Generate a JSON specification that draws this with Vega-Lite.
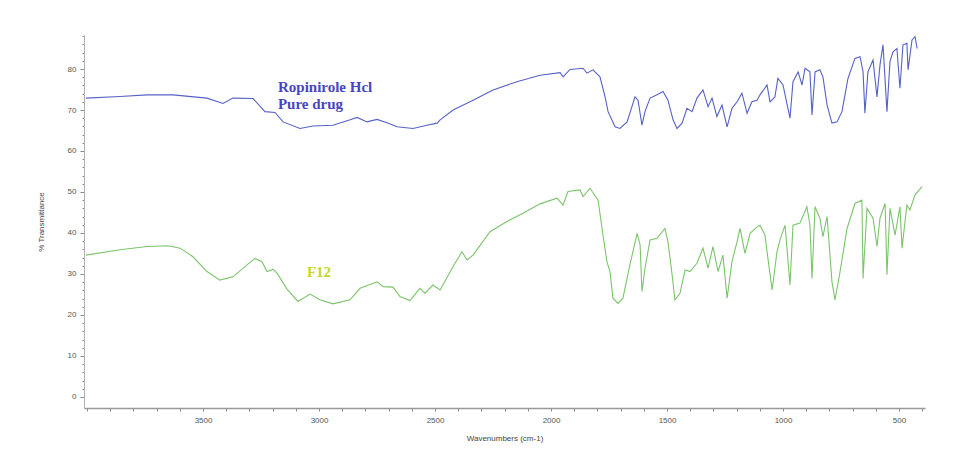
{
  "$schema": "https://vega.github.io/schema/vega-lite/v6.json",
  "autosize": {"type": "none"},
  "width": 841,
  "height": 373,
  "padding": {"left": 84, "top": 35, "right": 29, "bottom": 49},
  "background": "white",
  "config": {"view": {"stroke": null}, "font": "Liberation Sans"},
  "encoding": {
    "x": {
      "field": "wn", "type": "quantitative",
      "scale": {"domain": [388, 4013], "reverse": true, "nice": false, "zero": false},
      "axis": {
        "title": "Wavenumbers (cm-1)",
        "values": [400,500,600,700,800,900,1000,1100,1200,1300,1400,1500,1600,1700,1800,1900,2000,2100,2200,2300,2400,2500,2600,2700,2800,2900,3000,3100,3200,3300,3400,3500,3600,3700,3800,3900,4000],
        "labelExpr": "datum.value % 500 === 0 && datum.value < 4000 ? datum.label : ''",
        "labelOverlap": false,
        "labelFlush": false,
        "format": "d",
        "grid": false,
        "domainColor": "#9a9a9a",
        "domainWidth": 1.5,
        "tickColor": "#8a8a8a",
        "tickSize": 3,
        "labelColor": "#555555",
        "labelFontSize": 8,
        "labelPadding": 5,
        "titleColor": "#444444",
        "titleFontSize": 8,
        "titleFontWeight": "normal",
        "titlePadding": 10
      }
    },
    "y": {
      "field": "T", "type": "quantitative",
      "scale": {"domain": [-2.7, 88.3], "nice": false, "zero": false},
      "axis": {
        "title": "% Transmittance",
        "values": [0,2,4,6,8,10,12,14,16,18,20,22,24,26,28,30,32,34,36,38,40,42,44,46,48,50,52,54,56,58,60,62,64,66,68,70,72,74,76,78,80,82,84,86,88],
        "labelExpr": "datum.value % 10 === 0 ? datum.label : ''",
        "labelOverlap": false,
        "labelFlush": false,
        "grid": false,
        "domainColor": "#b0b0b0",
        "domainWidth": 1,
        "tickColor": "#8a8a8a",
        "tickSize": {"condition": {"test": "datum.value % 10 === 0", "value": 4}, "value": 2},
        "labelColor": "#555555",
        "labelFontSize": 8,
        "labelPadding": 4,
        "titleColor": "#444444",
        "titleFontSize": 8,
        "titleFontWeight": "normal",
        "titlePadding": 22
      }
    }
  },
  "layer": [
    {
      "data": {"values": [
        {"s":"Ropinirole Hcl","wn":4005,"T":72.9},{"s":"Ropinirole Hcl","wn":3858,"T":73.3},{"s":"Ropinirole Hcl","wn":3741,"T":73.7},{"s":"Ropinirole Hcl","wn":3629,"T":73.7},{"s":"Ropinirole Hcl","wn":3483,"T":72.9},{"s":"Ropinirole Hcl","wn":3414,"T":71.6},{"s":"Ropinirole Hcl","wn":3371,"T":72.9},{"s":"Ropinirole Hcl","wn":3284,"T":72.8},{"s":"Ropinirole Hcl","wn":3233,"T":69.6},{"s":"Ropinirole Hcl","wn":3190,"T":69.4},{"s":"Ropinirole Hcl","wn":3155,"T":67.1},{"s":"Ropinirole Hcl","wn":3082,"T":65.5},{"s":"Ropinirole Hcl","wn":3026,"T":66.1},{"s":"Ropinirole Hcl","wn":2940,"T":66.3},{"s":"Ropinirole Hcl","wn":2866,"T":67.6},{"s":"Ropinirole Hcl","wn":2836,"T":68.2},{"s":"Ropinirole Hcl","wn":2793,"T":67.1},{"s":"Ropinirole Hcl","wn":2750,"T":67.7},{"s":"Ropinirole Hcl","wn":2707,"T":66.9},{"s":"Ropinirole Hcl","wn":2664,"T":65.9},{"s":"Ropinirole Hcl","wn":2595,"T":65.5},{"s":"Ropinirole Hcl","wn":2535,"T":66.3},{"s":"Ropinirole Hcl","wn":2491,"T":66.8},{"s":"Ropinirole Hcl","wn":2478,"T":67.6},{"s":"Ropinirole Hcl","wn":2422,"T":70.0},{"s":"Ropinirole Hcl","wn":2336,"T":72.4},{"s":"Ropinirole Hcl","wn":2250,"T":74.9},{"s":"Ropinirole Hcl","wn":2147,"T":76.9},{"s":"Ropinirole Hcl","wn":2047,"T":78.5},{"s":"Ropinirole Hcl","wn":1961,"T":79.1},{"s":"Ropinirole Hcl","wn":1948,"T":78.1},{"s":"Ropinirole Hcl","wn":1918,"T":79.9},{"s":"Ropinirole Hcl","wn":1862,"T":80.2},{"s":"Ropinirole Hcl","wn":1845,"T":79.0},{"s":"Ropinirole Hcl","wn":1819,"T":79.8},{"s":"Ropinirole Hcl","wn":1789,"T":78.1},{"s":"Ropinirole Hcl","wn":1767,"T":73.2},{"s":"Ropinirole Hcl","wn":1754,"T":69.6},{"s":"Ropinirole Hcl","wn":1724,"T":65.9},{"s":"Ropinirole Hcl","wn":1703,"T":65.5},{"s":"Ropinirole Hcl","wn":1672,"T":67.1},{"s":"Ropinirole Hcl","wn":1638,"T":73.2},{"s":"Ropinirole Hcl","wn":1625,"T":72.4},{"s":"Ropinirole Hcl","wn":1608,"T":66.3},{"s":"Ropinirole Hcl","wn":1595,"T":69.6},{"s":"Ropinirole Hcl","wn":1573,"T":72.9},{"s":"Ropinirole Hcl","wn":1543,"T":73.7},{"s":"Ropinirole Hcl","wn":1517,"T":74.5},{"s":"Ropinirole Hcl","wn":1496,"T":72.4},{"s":"Ropinirole Hcl","wn":1474,"T":67.6},{"s":"Ropinirole Hcl","wn":1457,"T":65.5},{"s":"Ropinirole Hcl","wn":1435,"T":66.8},{"s":"Ropinirole Hcl","wn":1414,"T":70.4},{"s":"Ropinirole Hcl","wn":1392,"T":69.6},{"s":"Ropinirole Hcl","wn":1371,"T":72.9},{"s":"Ropinirole Hcl","wn":1345,"T":74.9},{"s":"Ropinirole Hcl","wn":1323,"T":70.8},{"s":"Ropinirole Hcl","wn":1306,"T":72.9},{"s":"Ropinirole Hcl","wn":1285,"T":68.4},{"s":"Ropinirole Hcl","wn":1263,"T":71.2},{"s":"Ropinirole Hcl","wn":1241,"T":65.9},{"s":"Ropinirole Hcl","wn":1220,"T":70.4},{"s":"Ropinirole Hcl","wn":1198,"T":72.0},{"s":"Ropinirole Hcl","wn":1177,"T":74.1},{"s":"Ropinirole Hcl","wn":1155,"T":69.2},{"s":"Ropinirole Hcl","wn":1134,"T":72.0},{"s":"Ropinirole Hcl","wn":1112,"T":72.4},{"s":"Ropinirole Hcl","wn":1099,"T":73.7},{"s":"Ropinirole Hcl","wn":1069,"T":76.1},{"s":"Ropinirole Hcl","wn":1056,"T":72.0},{"s":"Ropinirole Hcl","wn":1035,"T":73.2},{"s":"Ropinirole Hcl","wn":1022,"T":77.7},{"s":"Ropinirole Hcl","wn":1000,"T":76.1},{"s":"Ropinirole Hcl","wn":970,"T":68.0},{"s":"Ropinirole Hcl","wn":957,"T":76.9},{"s":"Ropinirole Hcl","wn":935,"T":79.3},{"s":"Ropinirole Hcl","wn":918,"T":76.1},{"s":"Ropinirole Hcl","wn":905,"T":80.2},{"s":"Ropinirole Hcl","wn":884,"T":79.3},{"s":"Ropinirole Hcl","wn":875,"T":68.8},{"s":"Ropinirole Hcl","wn":862,"T":79.3},{"s":"Ropinirole Hcl","wn":841,"T":79.8},{"s":"Ropinirole Hcl","wn":828,"T":78.1},{"s":"Ropinirole Hcl","wn":810,"T":71.2},{"s":"Ropinirole Hcl","wn":789,"T":66.8},{"s":"Ropinirole Hcl","wn":767,"T":67.1},{"s":"Ropinirole Hcl","wn":746,"T":69.6},{"s":"Ropinirole Hcl","wn":720,"T":77.7},{"s":"Ropinirole Hcl","wn":690,"T":82.6},{"s":"Ropinirole Hcl","wn":668,"T":83.0},{"s":"Ropinirole Hcl","wn":655,"T":79.3},{"s":"Ropinirole Hcl","wn":647,"T":69.2},{"s":"Ropinirole Hcl","wn":634,"T":79.3},{"s":"Ropinirole Hcl","wn":612,"T":82.2},{"s":"Ropinirole Hcl","wn":595,"T":73.2},{"s":"Ropinirole Hcl","wn":582,"T":81.0},{"s":"Ropinirole Hcl","wn":569,"T":85.9},{"s":"Ropinirole Hcl","wn":552,"T":69.6},{"s":"Ropinirole Hcl","wn":539,"T":81.8},{"s":"Ropinirole Hcl","wn":526,"T":84.2},{"s":"Ropinirole Hcl","wn":509,"T":85.0},{"s":"Ropinirole Hcl","wn":496,"T":75.3},{"s":"Ropinirole Hcl","wn":483,"T":85.9},{"s":"Ropinirole Hcl","wn":466,"T":86.3},{"s":"Ropinirole Hcl","wn":461,"T":79.8},{"s":"Ropinirole Hcl","wn":444,"T":87.1},{"s":"Ropinirole Hcl","wn":431,"T":87.9},{"s":"Ropinirole Hcl","wn":422,"T":85.0},
        {"s":"F12","wn":4005,"T":34.6},{"s":"F12","wn":3858,"T":35.9},{"s":"F12","wn":3741,"T":36.7},{"s":"F12","wn":3651,"T":36.9},{"s":"F12","wn":3599,"T":36.3},{"s":"F12","wn":3543,"T":34.2},{"s":"F12","wn":3483,"T":30.6},{"s":"F12","wn":3427,"T":28.5},{"s":"F12","wn":3371,"T":29.3},{"s":"F12","wn":3310,"T":32.2},{"s":"F12","wn":3276,"T":33.8},{"s":"F12","wn":3246,"T":33.0},{"s":"F12","wn":3224,"T":30.6},{"s":"F12","wn":3198,"T":31.1},{"s":"F12","wn":3181,"T":30.2},{"s":"F12","wn":3138,"T":26.3},{"s":"F12","wn":3091,"T":23.3},{"s":"F12","wn":3039,"T":25.1},{"s":"F12","wn":2996,"T":23.7},{"s":"F12","wn":2940,"T":22.7},{"s":"F12","wn":2866,"T":23.7},{"s":"F12","wn":2823,"T":26.5},{"s":"F12","wn":2750,"T":28.1},{"s":"F12","wn":2724,"T":26.9},{"s":"F12","wn":2681,"T":26.8},{"s":"F12","wn":2651,"T":24.5},{"s":"F12","wn":2608,"T":23.5},{"s":"F12","wn":2565,"T":26.5},{"s":"F12","wn":2543,"T":25.3},{"s":"F12","wn":2509,"T":27.3},{"s":"F12","wn":2478,"T":26.1},{"s":"F12","wn":2422,"T":31.8},{"s":"F12","wn":2384,"T":35.4},{"s":"F12","wn":2362,"T":33.4},{"s":"F12","wn":2336,"T":34.6},{"s":"F12","wn":2263,"T":40.3},{"s":"F12","wn":2190,"T":42.8},{"s":"F12","wn":2121,"T":44.8},{"s":"F12","wn":2047,"T":47.1},{"s":"F12","wn":1974,"T":48.5},{"s":"F12","wn":1948,"T":46.8},{"s":"F12","wn":1927,"T":50.1},{"s":"F12","wn":1875,"T":50.5},{"s":"F12","wn":1862,"T":48.9},{"s":"F12","wn":1832,"T":50.9},{"s":"F12","wn":1797,"T":48.0},{"s":"F12","wn":1776,"T":39.5},{"s":"F12","wn":1759,"T":33.0},{"s":"F12","wn":1746,"T":30.6},{"s":"F12","wn":1733,"T":24.1},{"s":"F12","wn":1711,"T":22.8},{"s":"F12","wn":1690,"T":24.1},{"s":"F12","wn":1660,"T":32.2},{"s":"F12","wn":1629,"T":39.9},{"s":"F12","wn":1616,"T":37.1},{"s":"F12","wn":1608,"T":25.7},{"s":"F12","wn":1595,"T":31.4},{"s":"F12","wn":1573,"T":38.3},{"s":"F12","wn":1543,"T":38.7},{"s":"F12","wn":1509,"T":41.1},{"s":"F12","wn":1496,"T":37.9},{"s":"F12","wn":1478,"T":29.8},{"s":"F12","wn":1466,"T":23.7},{"s":"F12","wn":1444,"T":25.3},{"s":"F12","wn":1422,"T":31.0},{"s":"F12","wn":1401,"T":30.6},{"s":"F12","wn":1371,"T":32.6},{"s":"F12","wn":1345,"T":36.3},{"s":"F12","wn":1323,"T":31.4},{"s":"F12","wn":1302,"T":36.7},{"s":"F12","wn":1280,"T":30.6},{"s":"F12","wn":1259,"T":34.6},{"s":"F12","wn":1241,"T":24.1},{"s":"F12","wn":1220,"T":33.0},{"s":"F12","wn":1198,"T":37.9},{"s":"F12","wn":1185,"T":41.1},{"s":"F12","wn":1164,"T":35.0},{"s":"F12","wn":1142,"T":39.9},{"s":"F12","wn":1112,"T":41.5},{"s":"F12","wn":1099,"T":41.9},{"s":"F12","wn":1078,"T":39.5},{"s":"F12","wn":1065,"T":33.8},{"s":"F12","wn":1047,"T":26.1},{"s":"F12","wn":1026,"T":35.4},{"s":"F12","wn":1013,"T":38.3},{"s":"F12","wn":991,"T":41.9},{"s":"F12","wn":970,"T":27.3},{"s":"F12","wn":957,"T":41.9},{"s":"F12","wn":927,"T":42.4},{"s":"F12","wn":897,"T":46.4},{"s":"F12","wn":884,"T":41.9},{"s":"F12","wn":875,"T":28.9},{"s":"F12","wn":862,"T":46.4},{"s":"F12","wn":841,"T":43.6},{"s":"F12","wn":828,"T":39.1},{"s":"F12","wn":810,"T":44.0},{"s":"F12","wn":789,"T":28.1},{"s":"F12","wn":776,"T":23.7},{"s":"F12","wn":754,"T":30.6},{"s":"F12","wn":724,"T":41.1},{"s":"F12","wn":690,"T":47.2},{"s":"F12","wn":660,"T":48.0},{"s":"F12","wn":655,"T":28.9},{"s":"F12","wn":638,"T":46.0},{"s":"F12","wn":612,"T":43.6},{"s":"F12","wn":595,"T":36.7},{"s":"F12","wn":582,"T":43.6},{"s":"F12","wn":560,"T":47.2},{"s":"F12","wn":552,"T":29.8},{"s":"F12","wn":539,"T":46.0},{"s":"F12","wn":517,"T":39.5},{"s":"F12","wn":496,"T":46.4},{"s":"F12","wn":487,"T":36.3},{"s":"F12","wn":466,"T":46.8},{"s":"F12","wn":453,"T":45.6},{"s":"F12","wn":431,"T":49.3},{"s":"F12","wn":401,"T":51.3}
      ]},
      "mark": {"type": "line", "strokeWidth": 1.1, "clip": true},
      "encoding": {
        "color": {
          "field": "s", "type": "nominal",
          "scale": {"domain": ["Ropinirole Hcl", "F12"], "range": ["#5662c4", "#7cc46c"]},
          "legend": null
        }
      }
    },
    {
      "data": {"values": [
        {"label": "Ropinirole Hcl", "wn": 3177, "T": 75.6, "g": "a"},
        {"label": "Pure drug", "wn": 3177, "T": 71.5, "g": "a"},
        {"label": "F12", "wn": 3052, "T": 30.5, "g": "b"}
      ]},
      "mark": {"type": "text", "align": "left", "baseline": "middle", "font": "Liberation Serif", "fontWeight": "bold", "fontSize": 15},
      "encoding": {
        "text": {"field": "label"},
        "color": {
          "field": "g", "type": "nominal",
          "scale": {"domain": ["a", "b"], "range": ["#4646c4", "#c6d62c"]},
          "legend": null
        }
      }
    }
  ],
  "resolve": {"scale": {"color": "independent"}}
}
